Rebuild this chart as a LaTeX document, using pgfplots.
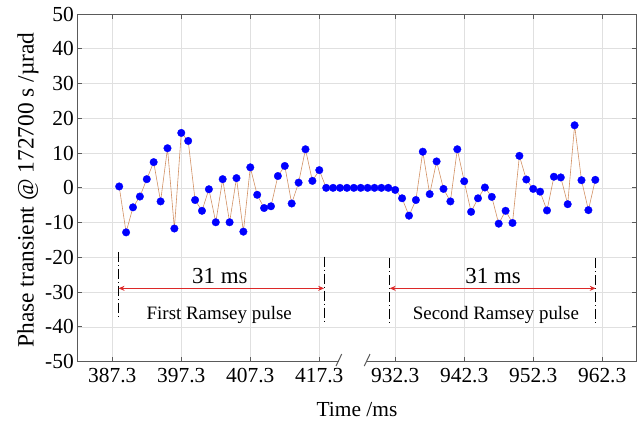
\documentclass[border=0pt]{standalone}
\usepackage{fontspec}
\setmainfont{Liberation Serif}
\usepackage{pgfplots}
\pgfplotsset{compat=1.18}
\usetikzlibrary{arrows.meta}
\definecolor{axgray}{RGB}{90,90,90}
\definecolor{gridgray}{RGB}{224,224,224}
\definecolor{ptblue}{RGB}{0,0,255}
\definecolor{lnorange}{RGB}{210,145,100}
\definecolor{arrred}{RGB}{220,40,40}
\begin{document}
\begin{tikzpicture}
\useasboundingbox (-77.3bp,-59.3bp) rectangle (563.7bp,361.7bp);
\begin{axis}[
  at={(0,0)}, anchor=south west,
  scale only axis, width=559.4bp, height=347.7bp,
  xmin=382.23, xmax=463.3, ymin=-50, ymax=50,
  clip=false,
  xtick={387.3,397.3,407.3,417.3,428.3,438.3,448.3,458.3},
  xticklabels={387.3,397.3,407.3,417.3,932.3,942.3,952.3,962.3},
  ytick={-50,-40,-30,-20,-10,0,10,20,30,40,50},
  yticklabels={-50,-40,-30,-20,-10,0,10,20,30,40,50},
  grid=major,
  major grid style={gridgray, line width=0.6bp},
  axis line style={axgray, line width=1bp},
  tick style={axgray, line width=1bp},
  tick align=inside, major tick length=5bp,
  ticklabel style={font=\fontsize{21.5}{25}\selectfont},
  xticklabel style={yshift=-3bp},
  xlabel={Time /ms},
  ylabel={Phase transient @ 172700 s /µrad},
  xlabel style={font=\fontsize{21.5}{25}\selectfont, at={(axis description cs:0.5,-0.158)}, anchor=base},
  ylabel style={font=\fontsize{23.5}{27}\selectfont, at={(axis description cs:-0.088,0.494)}, anchor=center},
]
\addplot[color=lnorange, line width=0.6bp, mark=*, mark size=3.8bp,
  mark options={fill=ptblue, draw=ptblue, line width=0.3bp}] table {
x y
388.3 0.4
389.3 -12.8
390.3 -5.6
391.3 -2.5
392.3 2.5
393.3 7.4
394.3 -3.9
395.3 11.4
396.3 -11.7
397.3 15.8
398.3 13.5
399.3 -3.5
400.3 -6.6
401.3 -0.4
402.3 -9.9
403.3 2.5
404.3 -9.9
405.3 2.8
406.3 -12.6
407.3 5.9
408.3 -2.0
409.3 -5.8
410.3 -5.3
411.3 3.4
412.3 6.3
413.3 -4.5
414.3 1.5
415.3 11.1
416.3 2.0
417.3 5.1
418.3 0
419.3 0
420.3 0
421.3 0
422.3 0
423.3 0
424.3 0
425.3 0
426.3 0
427.3 0
428.3 -0.6
429.3 -3.0
430.3 -8.0
431.3 -3.5
432.3 10.4
433.3 -1.8
434.3 7.6
435.3 -0.3
436.3 -3.9
437.3 11.1
438.3 1.9
439.3 -6.9
440.3 -3.0
441.3 0.1
442.3 -2.6
443.3 -10.3
444.3 -6.6
445.3 -10.1
446.3 9.2
447.3 2.4
448.3 -0.3
449.3 -1.1
450.3 -6.5
451.3 3.2
452.3 3.0
453.3 -4.7
454.3 18.0
455.3 2.2
456.3 -6.4
457.3 2.3
};
% annotations
\draw[black, line width=0.9bp, dash pattern=on 10bp off 3bp on 1bp off 3bp]
  (axis cs:388.2,-18.4) -- (axis cs:388.2,-37.5);
\draw[black, line width=0.9bp, dash pattern=on 10bp off 3bp on 1bp off 3bp]
  (axis cs:418.0,-19.8) -- (axis cs:418.0,-39.0);
\draw[black, line width=0.9bp, dash pattern=on 10bp off 3bp on 1bp off 3bp]
  (axis cs:427.5,-20.3) -- (axis cs:427.5,-39.0);
\draw[black, line width=0.9bp, dash pattern=on 10bp off 3bp on 1bp off 3bp]
  (axis cs:457.36,-20.3) -- (axis cs:457.36,-39.0);
\draw[arrred, line width=0.9bp, {Stealth[length=6bp,width=5bp]}-{Stealth[length=6bp,width=5bp]}]
  (axis cs:388.2,-28.9) -- (axis cs:418.0,-28.9);
\draw[arrred, line width=0.9bp, {Stealth[length=6bp,width=5bp]}-{Stealth[length=6bp,width=5bp]}]
  (axis cs:427.5,-28.9) -- (axis cs:457.36,-28.9);
\node[anchor=base, font=\fontsize{23}{27}\selectfont] at (axis cs:402.9,-27.5) {31 ms};
\node[anchor=base, font=\fontsize{23}{27}\selectfont] at (axis cs:442.5,-27.5) {31 ms};
\node[anchor=base, font=\fontsize{19}{23}\selectfont] at (axis cs:402.8,-38.0) {First Ramsey pulse};
\node[anchor=base, font=\fontsize{19}{23}\selectfont] at (axis cs:442.9,-38.0) {Second Ramsey pulse};
\coordinate (g1) at (axis cs:420.15,-50);
\coordinate (g2) at (axis cs:424.2,-50);
\coordinate (s1a) at (axis cs:419.72,-51.25);
\coordinate (s1b) at (axis cs:420.55,-47.8);
\coordinate (s2a) at (axis cs:423.82,-51.25);
\coordinate (s2b) at (axis cs:424.65,-47.8);
\end{axis}
\draw[white, line width=2.5bp] (g1) -- (g2);
\draw[axgray, line width=1bp] (s1a) -- (s1b);
\draw[axgray, line width=1bp] (s2a) -- (s2b);
\end{tikzpicture}
\end{document}
